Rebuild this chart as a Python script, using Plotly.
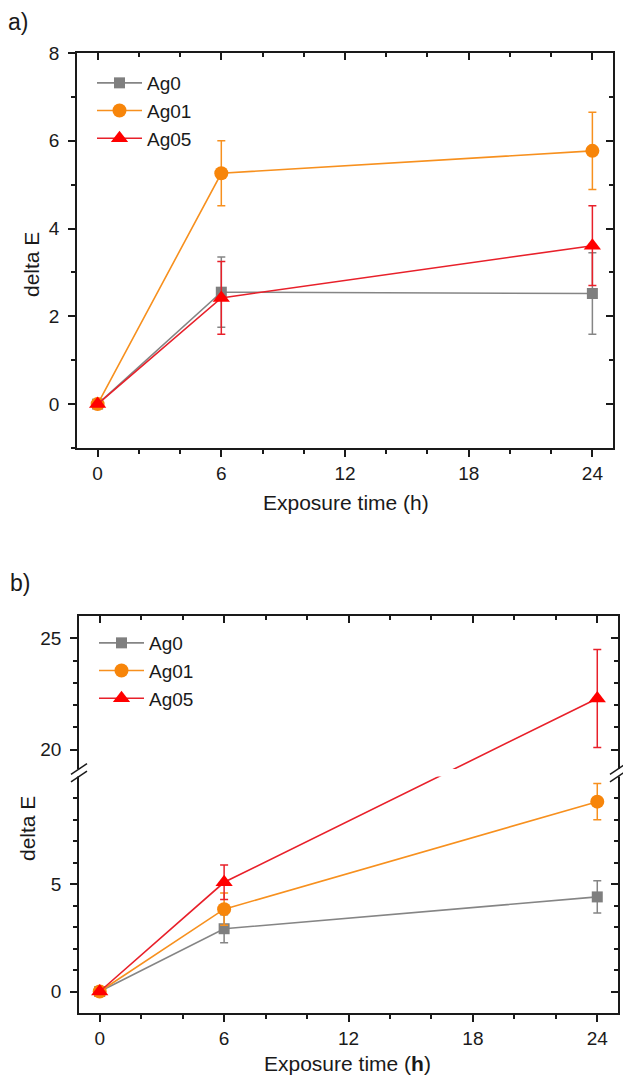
import plotly.graph_objects as go

# ---------------- data ----------------
time_h = [0, 6, 24]
series_names = ["Ag0", "Ag01", "Ag05"]

# panel a
a_ag0 = [0, 2.55, 2.52]
a_ag0_err = [0, 0.80, 0.93]
a_ag01 = [0, 5.26, 5.77]
a_ag01_err = [0, 0.74, 0.88]
a_ag05 = [0, 2.42, 3.61]
a_ag05_err = [0, 0.83, 0.91]

# panel b
b_ag0 = [0, 2.92, 4.40]
b_ag0_err = [0, 0.65, 0.75]
b_ag01 = [0, 3.83, 8.83]
b_ag01_err = [0, 0.75, 0.84]
b_ag05 = [0, 5.08, 22.3]
b_ag05_err = [0, 0.80, 2.2]

x_ticks = [0, 6, 12, 18, 24]
a_y_ticks = [0, 2, 4, 6, 8]
b_y_ticks = [0, 5, 20, 25]
b_y_minor = [1, 2, 3, 4, 6, 7, 8, 9, 21, 22, 23, 24]

# ---------------- styles ----------------
W, H = 623, 1078
FONT = "Liberation Sans, Arial, sans-serif"
INK = "#1a1a1a"
colors = {"Ag0": "#858585", "Ag01": "#F7901E", "Ag05": "#E8202A"}
mcolors = {"Ag0": "#7F7F7F", "Ag01": "#F7850A", "Ag05": "#FF0000"}
symbols = {"Ag0": "square", "Ag01": "circle", "Ag05": "triangle-up"}
msizes = {"Ag0": 11, "Ag01": 14, "Ag05": 15}

# broken axis (panel b): lower segment up to LOW_TOP, upper from HIGH_BOTTOM
LOW_TOP = 10.0
HIGH_BOTTOM = 18.8
HIGH_SCALE = 1.037
GAP = 0.35


def d(v):
    return v if v <= LOW_TOP else LOW_TOP + (v - HIGH_BOTTOM) * HIGH_SCALE


B_TOP = 26.0

# domains (paper)
ax_x = [77 / W, 613 / W]
ax_y = [1 - 448 / H, 1 - 53 / H]
bx_x = [79 / W, 618 / W]
bx_y = [1 - 1013 / H, 1 - 616 / H]

fig = go.Figure()

a_vals = {"Ag0": (a_ag0, a_ag0_err), "Ag01": (a_ag01, a_ag01_err), "Ag05": (a_ag05, a_ag05_err)}
b_vals = {"Ag0": (b_ag0, b_ag0_err), "Ag01": (b_ag01, b_ag01_err), "Ag05": (b_ag05, b_ag05_err)}

for name in series_names:
    vals, errs = a_vals[name]
    fig.add_trace(go.Scatter(
        x=time_h, y=vals, name=name, mode="lines+markers",
        xaxis="x", yaxis="y", legend="legend",
        line=dict(color=colors[name], width=1.6),
        marker=dict(color=mcolors[name], symbol=symbols[name], size=msizes[name]),
        error_y=dict(type="data", array=errs, visible=True, color=colors[name],
                     thickness=1.5, width=4),
    ))

for name in series_names:
    vals, errs = b_vals[name]
    yd = [d(v) for v in vals]
    plus = [d(v + e) - d(v) for v, e in zip(vals, errs)]
    minus = [d(v) - d(v - e) for v, e in zip(vals, errs)]
    fig.add_trace(go.Scatter(
        x=time_h, y=yd, name=name, mode="lines+markers",
        xaxis="x2", yaxis="y2", legend="legend2",
        customdata=vals, hovertemplate="%{x} h: %{customdata}<extra>" + name + "</extra>",
        line=dict(color=colors[name], width=1.6),
        marker=dict(color=mcolors[name], symbol=symbols[name], size=msizes[name]),
        error_y=dict(type="data", symmetric=False, array=plus, arrayminus=minus,
                     visible=True, color=colors[name], thickness=1.5, width=4),
    ))

# empty helper traces so the mirrored (inside-tick) axes get drawn
for xa, ya in (("x3", "y"), ("x", "y3"), ("x4", "y2"), ("x2", "y4")):
    fig.add_trace(go.Scatter(x=[None], y=[None], xaxis=xa, yaxis=ya, showlegend=False,
                             hoverinfo="skip", mode="lines"))

axis_common = dict(showline=True, linecolor=INK, linewidth=1.5, mirror=True,
                   ticks="outside", ticklen=7, tickwidth=1.5, tickcolor=INK,
                   showgrid=False, zeroline=False, automargin=False,
                   tickfont=dict(family=FONT, size=19, color=INK))
inside_common = dict(showline=False, ticks="inside", ticklen=7, tickwidth=1.5, tickcolor=INK,
                     showgrid=False, zeroline=False, showticklabels=False, automargin=False)
minor_out = dict(ticklen=4, ticks="outside", tickwidth=1.5, tickcolor=INK)
minor_in = dict(ticklen=4, ticks="inside", tickwidth=1.5, tickcolor=INK)

fig.update_layout(
    width=W, height=H, margin=dict(l=0, r=0, t=0, b=0),
    paper_bgcolor="white", plot_bgcolor="white",
    font=dict(family=FONT, color=INK),
    xaxis=dict(domain=ax_x, anchor="y", range=[-1, 25], tickmode="array", tickvals=x_ticks,
               ticklabelstandoff=0, minor=dict(dtick=2, tick0=0, **minor_out), **axis_common),
    yaxis=dict(domain=ax_y, anchor="x", range=[-1, 8], tickmode="array", tickvals=a_y_ticks,
               ticklabelstandoff=5, minor=dict(dtick=1, tick0=0, **minor_out), **axis_common),
    xaxis3=dict(overlaying="x", anchor="y", side="top", range=[-1, 25], tickmode="array",
                tickvals=x_ticks, minor=dict(dtick=2, tick0=0, **minor_in), **inside_common),
    yaxis3=dict(overlaying="y", anchor="x", side="right", range=[-1, 8], tickmode="array",
                tickvals=a_y_ticks, minor=dict(dtick=1, tick0=0, **minor_in), **inside_common),
    xaxis2=dict(domain=bx_x, anchor="y2", range=[-1, 25], tickmode="array", tickvals=x_ticks,
                ticklabelstandoff=0, minor=dict(dtick=2, tick0=0, **minor_out), **axis_common),
    yaxis2=dict(domain=bx_y, anchor="x2", range=[-1, d(B_TOP)], tickmode="array",
                tickvals=[d(v) for v in b_y_ticks], ticktext=[str(v) for v in b_y_ticks],
                ticklabelstandoff=5,
                minor=dict(tickmode="array", tickvals=[d(v) for v in b_y_minor], **minor_out),
                **axis_common),
    xaxis4=dict(overlaying="x2", anchor="y2", side="top", range=[-1, 25], tickmode="array",
                tickvals=x_ticks, minor=dict(dtick=2, tick0=0, **minor_in), **inside_common),
    yaxis4=dict(overlaying="y2", anchor="x2", side="right", range=[-1, d(B_TOP)],
                tickmode="array", tickvals=[d(v) for v in b_y_ticks],
                minor=dict(tickmode="array", tickvals=[d(v) for v in b_y_minor], **minor_in),
                **inside_common),
    legend=dict(x=92 / W, y=1 - 64 / H, xanchor="left", yanchor="top", itemwidth=45,
                bgcolor="rgba(0,0,0,0)", font=dict(family=FONT, size=19, color=INK),
                tracegroupgap=0, itemsizing="trace"),
    legend2=dict(x=94 / W, y=1 - 624 / H, xanchor="left", yanchor="top", itemwidth=45,
                 bgcolor="rgba(0,0,0,0)", font=dict(family=FONT, size=19, color=INK),
                 tracegroupgap=0, itemsizing="trace"),
    showlegend=True,
)

# break band and slash marks (panel b)
shapes = [dict(type="rect", xref="paper", yref="y2", layer="above",
               x0=bx_x[0] - 9 / W, x1=bx_x[1] + 9 / W, y0=LOW_TOP, y1=LOW_TOP + GAP,
               fillcolor="white", line=dict(width=0))]
for xp in bx_x:
    for c in (LOW_TOP, LOW_TOP + GAP):
        shapes.append(dict(type="line", xref="paper", yref="y2", layer="above",
                           x0=xp - 8 / W, x1=xp + 8 / W, y0=c - 0.25, y1=c + 0.25,
                           line=dict(color=INK, width=1.5)))
fig.update_layout(shapes=shapes)

title_font = dict(family=FONT, size=21, color=INK)
ann = [
    dict(text="a)", x=6 / W, y=1 - 22 / H, xref="paper", yref="paper", xanchor="left",
         yanchor="middle", showarrow=False, font=dict(family=FONT, size=23, color=INK)),
    dict(text="b)", x=8 / W, y=1 - 583 / H, xref="paper", yref="paper", xanchor="left",
         yanchor="middle", showarrow=False, font=dict(family=FONT, size=23, color=INK)),
    dict(text="Exposure time (h)", x=346 / W, y=1 - 502 / H, xref="paper", yref="paper",
         xanchor="center", yanchor="middle", showarrow=False, font=title_font),
    dict(text="Exposure time (<b>h</b>)", x=348 / W, y=1 - 1063 / H,
         xref="paper", yref="paper", xanchor="center", yanchor="middle", showarrow=False,
         font=title_font),
    dict(text="delta E", x=31 / W, y=1 - 265 / H, xref="paper", yref="paper", textangle=-90,
         xanchor="center", yanchor="middle", showarrow=False, font=title_font),
    dict(text="delta E", x=27 / W, y=1 - 828 / H, xref="paper", yref="paper", textangle=-90,
         xanchor="center", yanchor="middle", showarrow=False, font=title_font),
]
fig.update_layout(annotations=ann)

fig.write_html("out.html")
